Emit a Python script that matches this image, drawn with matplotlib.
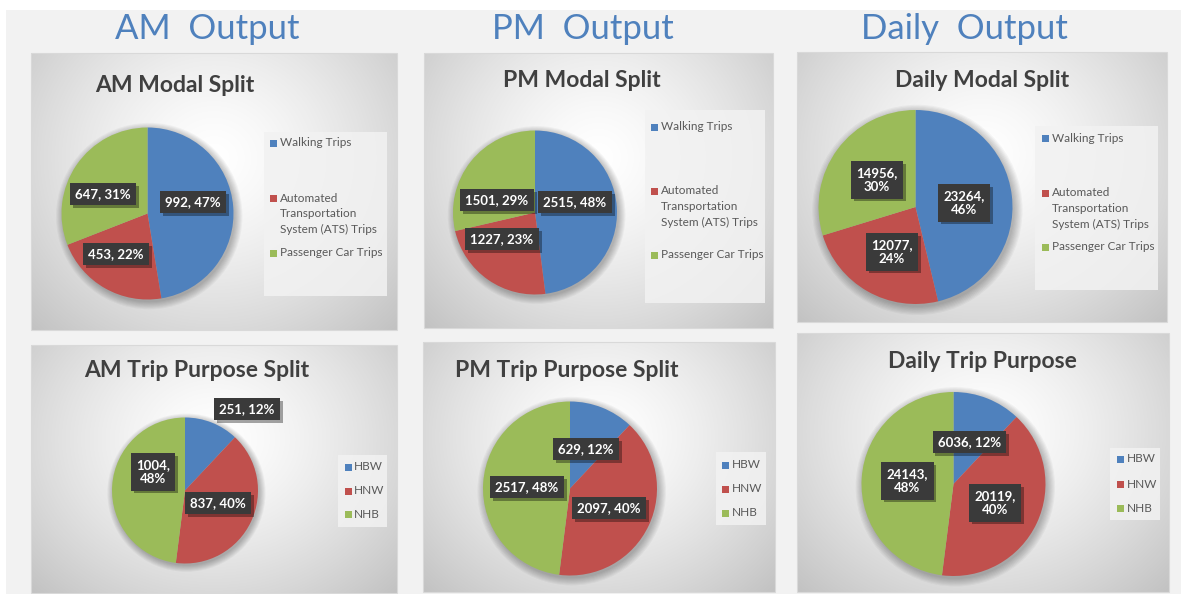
import numpy as np
import matplotlib
matplotlib.use("Agg")
import matplotlib.pyplot as plt
from matplotlib.patches import Rectangle, Circle
from matplotlib import patheffects as pe
from matplotlib.colors import LinearSegmentedColormap

plt.rcParams['font.family'] = ['Lato', 'DejaVu Sans']

# ---- data -------------------------------------------------------------
modal_categories = ["Walking Trips",
                    "Automated\nTransportation\nSystem (ATS) Trips",
                    "Passenger Car Trips"]
purpose_categories = ["HBW", "HNW", "NHB"]

am_modal = [992, 453, 647]
pm_modal = [2515, 1227, 1501]
daily_modal = [23264, 12077, 14956]

am_purpose = [251, 837, 1004]
pm_purpose = [629, 2097, 2517]
daily_purpose = [6036, 20119, 24143]

headers = ["AM  Output", "PM  Output", "Daily  Output"]
titles = ["AM Modal Split", "PM Modal Split", "Daily Modal Split",
          "AM Trip Purpose Split", "PM Trip Purpose Split", "Daily Trip Purpose"]

colors = ["#4f81bd", "#c0504d", "#9bbb59"]

# ---- layout (pixels, origin top-left) ---------------------------------
W, H = 1181, 594

panels = [
    dict(box=(31, 53, 397, 330), pie=(147.5, 213.5, 86), title=(175, 92),
         labels=[(193, 202, False), (116, 254, False), (103, 194, False)],
         legend=dict(box=(264, 132, 387, 296), mx=273, tx=280, ys=[143, 198, 253])),
    dict(box=(424, 53, 773, 328), pie=(535, 212.5, 82), title=(582, 87),
         labels=[(575, 202, False), (502, 239, False), (497, 200, False)],
         legend=dict(box=(645, 110, 765, 303), mx=654, tx=661, ys=[127, 191, 255])),
    dict(box=(797, 52, 1167, 322), pie=(915.5, 207, 97), title=(982, 87),
         labels=[(964, 203, True), (892, 252, True), (877, 180, True)],
         legend=dict(box=(1035, 126, 1158, 290), mx=1045, tx=1052, ys=[138, 193, 247])),
    dict(box=(31, 345, 397, 593), pie=(185, 490.5, 73), title=(197, 377),
         labels=[(247, 409, False), (218, 503, False), (153, 472, True)],
         legend=dict(box=(338, 455, 387, 527), mx=348, tx=354, ys=[467, 491, 514])),
    dict(box=(423, 342, 775, 592), pie=(570, 488.5, 87), title=(567, 377),
         labels=[(586, 449, False), (609, 508, False), (527, 487, False)],
         legend=dict(box=(716, 452, 766, 525), mx=725, tx=732, ys=[465, 489, 513])),
    dict(box=(797, 333, 1169, 592), pie=(953.5, 484, 92), title=(982, 368),
         labels=[(969.5, 442, False), (995, 503, True), (907.5, 481, True)],
         legend=dict(box=(1110, 448, 1160, 520), mx=1120, tx=1127, ys=[459, 484, 508])),
]
series = [am_modal, pm_modal, daily_modal, am_purpose, pm_purpose, daily_purpose]
cats = [modal_categories] * 3 + [purpose_categories] * 3
header_pos = [(207, 39), (583, 39), (964, 39)]

# ---- figure -----------------------------------------------------------
fig = plt.figure(figsize=(W / 100, H / 100), dpi=100)
fig.patch.set_facecolor("white")

bg = fig.add_axes([0, 0, 1, 1], zorder=0)
bg.set_xlim(0, W)
bg.set_ylim(H, 0)
bg.axis("off")
bg.add_patch(Rectangle((6, 10), W - 6, H - 10, fc="#f2f2f2", ec="none"))

top = fig.add_axes([0, 0, 1, 1], zorder=5)
top.set_xlim(0, W)
top.set_ylim(H, 0)
top.axis("off")
top.patch.set_alpha(0)

grad_cmap = LinearSegmentedColormap.from_list("g", ["#c2c2c2", "#ffffff"])

for (hx, hy), txt in zip(header_pos, headers):
    bg.text(hx, hy, txt, ha="center", va="baseline", fontsize=25,
            color="#4f81bd")

for p, vals, cat, title in zip(panels, series, cats, titles):
    x0, y0, x1, y1 = p["box"]
    w, h = x1 - x0, y1 - y0
    # radial gradient panel background
    gx = np.linspace(0, 1, int(w))
    gy = np.linspace(0, 1, int(h))
    X, Y = np.meshgrid(gx, gy)
    d = np.sqrt(((X - 0.5) / 0.5) ** 2 + ((Y - 0.38) / 0.62) ** 2) / np.sqrt(2)
    v = 1 - np.clip(d, 0, 1) ** 1.4
    bg.imshow(v, cmap=grad_cmap, vmin=0, vmax=1, extent=(x0, x1, y1, y0),
              origin="upper", aspect="auto", interpolation="bilinear", zorder=1)
    bg.add_patch(Rectangle((x0, y0), w, h, fc="none", ec="#d9d9d9", lw=0.8, zorder=2))

    # title
    tx, ty = p["title"]
    bg.text(tx, ty, title, ha="center", va="baseline", fontsize=16.5,
            fontweight="bold", color="#404040", zorder=3)

    # pie
    cx, cy, r = p["pie"]
    s = 1.15
    ax = fig.add_axes([(cx - r * s) / W, 1 - (cy + r * s) / H,
                       2 * r * s / W, 2 * r * s / H], zorder=2)
    ax.patch.set_alpha(0)
    for k in range(8):
        ax.add_patch(Circle((0.02, -0.03), 1.0 + 0.012 * k, fc="#000000",
                            alpha=0.035, ec="none"))
    ax.pie(vals, colors=colors, startangle=90, counterclock=False, radius=1,
           wedgeprops=dict(linewidth=0))
    ax.set_xlim(-s, s)
    ax.set_ylim(-s, s)
    ax.set_aspect("equal")
    ax.axis("off")

    # data labels
    total = float(sum(vals))
    for (lx, ly, wrap), val in zip(p["labels"], vals):
        pct = round(100 * val / total)
        sep = ",\n" if wrap else ", "
        t = top.text(lx, ly, f"{val}{sep}{pct}%", ha="center", va="center",
                     fontsize=9.5, fontweight="bold", color="white",
                     linespacing=1.25,
                     bbox=dict(boxstyle="square,pad=0.4", fc="#3a3a3a", ec="none"))
        t.get_bbox_patch().set_path_effects(
            [pe.SimplePatchShadow(offset=(2, -2), shadow_rgbFace="#000000", alpha=0.35),
             pe.Normal()])

    # legend
    lg = p["legend"]
    lx0, ly0, lx1, ly1 = lg["box"]
    bg.add_patch(Rectangle((lx0, ly0), lx1 - lx0, ly1 - ly0, fc="#f2f2f2",
                           ec="none", alpha=0.85, zorder=3))
    for yy, name, col in zip(lg["ys"], cat, colors):
        bg.add_patch(Rectangle((lg["mx"] - 3.5, yy - 3.5), 7, 7, fc=col,
                               ec="none", zorder=4))
        bg.text(lg["tx"], yy - 5.5, name, ha="left", va="top", fontsize=8.5,
                color="#595959", linespacing=1.55, zorder=4)

fig.savefig("out.png", dpi=100)
